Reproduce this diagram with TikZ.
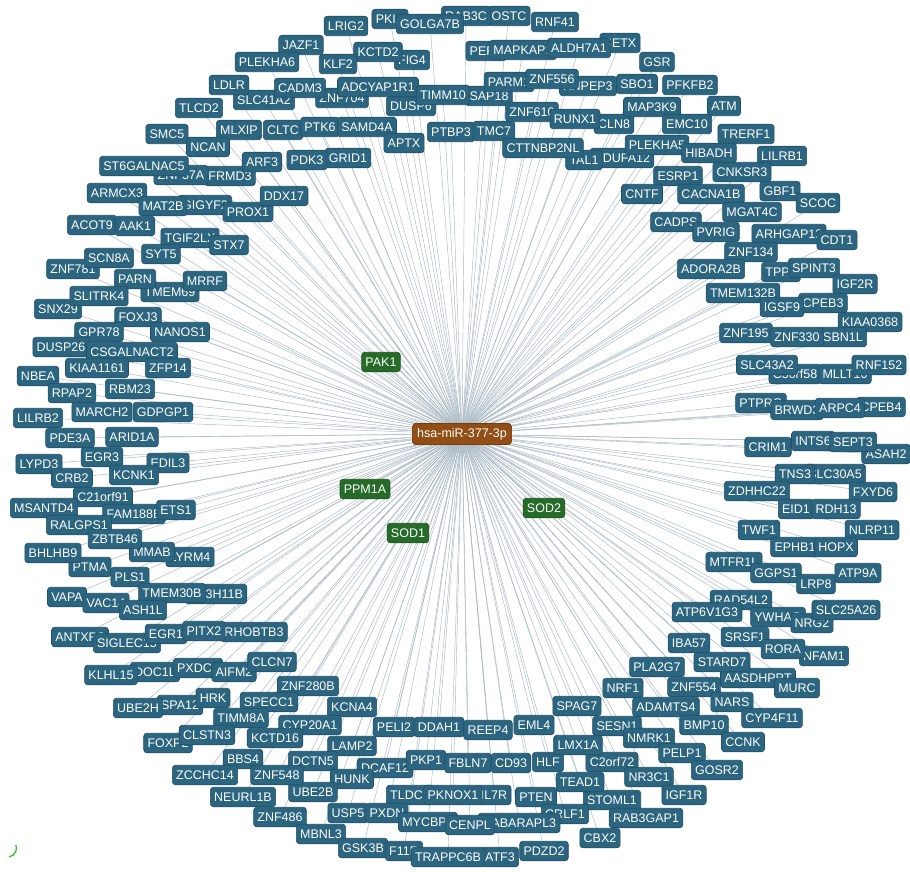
\documentclass[tikz,border=0pt]{standalone}
\usepackage{fontspec}
\setmainfont{Liberation Sans}
\usetikzlibrary{backgrounds}
\definecolor{genefill}{RGB}{44,101,128}
\definecolor{genedraw}{RGB}{32,80,104}
\definecolor{edgecol}{RGB}{168,184,196}
\definecolor{grnfill}{RGB}{38,108,40}
\definecolor{mirfill}{RGB}{146,78,20}
\def\genelist{346/26/LRIG2,390/19/PKIA,509/16/OSTC,466/16/RAB3C,430/24/GOLGA7B,555/22/RNF41,301/45/JAZF1,267/62/PLEKHA6,412/60/FIG4,378/52/KCTD2,338/64/KLF2,486/51/PER3,620/43/SETX,523/50/MAPKAP1,579/48/ALDH7A1,657/62/GSR,264/100/SLC41A2,229/85/LDLR,342/98/ZNF704,411/106/DUSP6,378/87/ADCYAP1R1,300/88/CADM3,637/84/SBO1,588/86/XNPEP3,489/96/SAP18,443/95/TIMM10,509/82/PARM1,552/79/ZNF556,690/85/PFKFB2,199/108/TLCD2,167/134/SMC5,239/130/MLXIP,283/130/CLTC,320/127/PTK6,367/127/SAMD4A,208/147/NCAN,404/143/APTX,451/132/PTBP3,494/131/TMC7,532/112/ZNF610,614/124/CLN8,575/119/RUNX1,652/107/MAP3K9,724/106/ATM,687/124/EMC10,746/134/TRERF1,622/158/NDUFA12,584/160/TAL1,543/148/CTTNBP2NL,657/145/PLEKHA5,709/153/HIBADH,782/156/LILRB1,348/158/GRID1,307/160/PDK3,230/176/FRMD3,181/175/ZNF37A,144/166/ST6GALNAC5,262/162/ARF3,117/193/ARMCX3,205/205/GIGYF2,163/206/MAT2B,248/212/PROX1,284/196/DDX17,678/176/ESRP1,742/172/CNKSR3,642/194/CNTF,711/194/CACNA1B,780/191/GBF1,818/203/SCOC,752/212/MGAT4C,676/222/CADPS,716/232/PVRIG,789/234/ARHGAP12,837/240/CDT1,751/252/ZNF134,711/269/ADORA2B,781/272/TPP2,814/268/SPINT3,855/284/IGF2R,743/293/TMEM132B,823/303/CPEB3,782/307/IGSF9,870/322/KIAA0368,746/333/ZNF195,843/337/SBN1L,797/337/ZNF330,795/374/C3orf58,845/374/MLLT10,767/365/SLC43A2,879/365/RNF152,881/407/CPEB4,761/403/PTPRG,797/410/BRWD3,840/408/ARPC4,768/447/CRIM1,813/441/INTS6,886/454/ASAH2,853/442/SEPT3,835/474/SLC30A5,795/474/TNS3,757/491/ZDHHC22,873/492/FXYD6,796/509/EID1,836/509/RDH13,759/530/TWF1,872/530/NLRP11,795/547/EPHB1,836/547/HOPX,734/562/MTFR1L,776/573/GGPS1,816/584/LRP8,858/573/ATP9A,741/600/RAD54L2,778/617/YWHAG,707/612/ATP6V1G3,812/623/NRG2,846/610/SLC25A26,689/643/IBA57,745/637/SRSF1,824/656/NFAM1,783/649/RORA,657/667/PLA2G7,758/678/AASDHPPT,722/662/STARD7,623/688/NRF1,694/687/ZNF554,797/688/MURC,666/707/ADAMTS4,732/702/NARS,772/718/CYP4F11,617/726/SESN1,704/725/BMP10,649/738/NMRK1,743/742/CCNK,682/753/PELP1,612/762/C2orf72,717/770/GOSR2,649/777/NR3C1,684/795/IGF1R,612/800/STOML1,646/818/RAB3GAP1,600/838/CBX2,308/686/ZNF280B,352/707/KCNA4,310/725/CYP20A1,394/727/PELI2,439/727/DDAH1,488/730/REEP4,534/725/EML4,577/706/SPAG7,352/746/LAMP2,313/761/DCTN5,385/768/DCAF12,426/760/PKP1,468/763/FBLN7,511/763/CD93,548/762/HLF,578/745/LMX1A,352/779/HUNK,313/792/UBE2B,410/795/TLDC1,494/795/IL7R,453/795/PKNOX1,536/797/PTEN,580/782/TEAD1,348/813/USP5,387/813/PXDN,280/817/ZNF486,428/822/MYCBP2,565/814/CRLF1,519/823/GABARAPL3,470/825/CENPL,321/834/MBNL3,363/848/GSK3B,404/851/F11R,500/857/ATF3,448/857/TRAPPC6B,544/851/PDZD2,155/672/DOC1L,111/675/KLHL15,198/668/PXDC1,234/672/AIFM2,272/662/CLCN7,180/705/SPA12,138/708/UBE2H,213/698/HRK,269/702/SPECC1,241/718/TIMM8A,168/743/FOXP2,207/735/CLSTN3,275/738/KCTD16,243/759/BBS4,205/775/ZCCHC14,277/775/ZNF548,243/797/NEURL1B,92/225/ACOT9,135/226/AAK1,190/238/TGIF2LX,229/245/STX7,161/254/SYT5,73/269/ZNF781,109/258/SCN8A,170/292/TMEM69,135/279/PARN,205/281/MRRF,58/309/SNX29,99/296/SLITRK4,138/317/FOXJ3,99/332/GPR78,180/332/NANOS1,61/347/DUSP26,132/352/CSGALNACT2,97/368/KIAA1161,168/368/ZFP14,38/376/NBEA,130/389/RBM23,72/393/RPAP2,102/412/MARCH2,163/412/GDPGP1,38/418/LILRB2,70/438/PDE3A,132/437/ARID1A,102/457/EGR3,39/464/LYPD3,168/463/EDIL3,72/478/CRB2,134/475/KCNK1,103/497/C21orf91,44/508/MSANTD4,134/514/FAM188B,176/510/ETS1,79/525/RALGPS1,190/557/LYRM4,152/552/MMAB,115/539/ZBTB46,90/567/PTMA,53/553/BHLHB9,130/577/PLS1,216/594/ZC3H11B,172/593/TMEM30B,67/597/VAPA,106/603/VAC14,143/610/ASH1L,80/637/ANTXR2,127/643/SIGLEC15,166/634/EGR1,254/632/RHOBTB3,204/631/PITX2}
\def\greenlist{381/362/PAK1,365/489/PPM1A,408/533/SOD1,544/508/SOD2}
\begin{document}
\begin{tikzpicture}[x=1pt,y=-1pt,
  gene/.style={fill=genefill, draw=genedraw, line width=0.6pt, rounded corners=3pt,
    text=white, font=\fontsize{12.5}{14}\selectfont, inner xsep=3.8pt, inner ysep=0pt,
    minimum height=19.5pt},
  hit/.style={gene, fill=grnfill, draw=grnfill!80!black},
  mirbox/.style={gene, fill=mirfill, draw=mirfill!80!black, inner xsep=4.5pt, minimum height=21pt},
  edge/.style={draw=edgecol, line width=0.45pt}]
\useasboundingbox (0,0) rectangle (910,872);
\node[mirbox] (mir) at (462,434) {hsa-miR-377-3p};
\foreach \x/\y/\t in \genelist {\node[gene] (\t) at (\x,\y) {\t};}
\foreach \x/\y/\t in \greenlist {\node[hit] (\t) at (\x,\y) {\t};}
\begin{scope}[on background layer]
\fill[white] (0,0) rectangle (910,872);
\foreach \x/\y/\t in \genelist {\draw[edge] (mir.center) -- (\t.center);}
\foreach \x/\y/\t in \greenlist {\draw[edge] (mir.center) -- (\t.center);}
\end{scope}
\node[mirbox] at (mir.center) {hsa-miR-377-3p};
\draw[green!55!gray, line width=1.4pt] (9,857) arc[start angle=80, end angle=-20, radius=9];
\end{tikzpicture}
\end{document}
